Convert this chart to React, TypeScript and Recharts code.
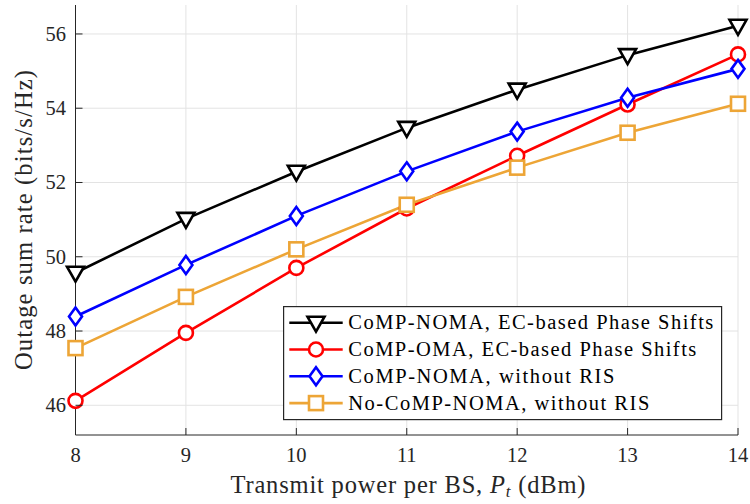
import { LineChart, Line, XAxis, YAxis, CartesianGrid, Label } from "recharts";

const powers = [8, 9, 10, 11, 12, 13, 14];
const compNomaEc = [49.57, 51.02, 52.29, 53.47, 54.5, 55.43, 56.22];
const compOmaEc = [46.12, 47.95, 49.7, 51.3, 52.72, 54.1, 55.45];
const compNomaNoRis = [48.39, 49.78, 51.1, 52.3, 53.37, 54.28, 55.06];
const noCompNoma = [47.54, 48.92, 50.2, 51.4, 52.4, 53.34, 54.12];
const xTicks = [8, 9, 10, 11, 12, 13, 14];
const yTicks = [46, 48, 50, 52, 54, 56];

const seriesNames = [
  "CoMP-NOMA, EC-based Phase Shifts",
  "CoMP-OMA, EC-based Phase Shifts",
  "CoMP-NOMA, without RIS",
  "No-CoMP-NOMA, without RIS",
];
// measured text widths in the legend
const legendWidths = [365, 348, 266, 301];

const data = powers.map((p, i) => ({
  p,
  a: compNomaEc[i],
  b: compOmaEc[i],
  c: compNomaNoRis[i],
  d: noCompNoma[i],
}));

const FONT = "'Liberation Serif', serif";
const AXIS = "#262626";
const colors = ["#000000", "#ff0000", "#0000ff", "#EDA536"];
const shapes = ["tri", "circle", "diamond", "square"];

function Marker({ shape, cx, cy, color }: { shape: string; cx: number; cy: number; color: string }) {
  const sw = 2.6;
  if (shape === "tri")
    return <polygon points={`${cx - 8.5},${cy - 6} ${cx + 8.5},${cy - 6} ${cx},${cy + 9}`} fill="#fff" stroke={color} strokeWidth={sw} />;
  if (shape === "circle") return <circle cx={cx} cy={cy} r={7} fill="#fff" stroke={color} strokeWidth={sw} />;
  if (shape === "diamond")
    return <polygon points={`${cx},${cy - 9} ${cx + 6.5},${cy} ${cx},${cy + 9} ${cx - 6.5},${cy}`} fill="#fff" stroke={color} strokeWidth={sw} />;
  return <rect x={cx - 7} y={cy - 7} width={14} height={14} fill="#fff" stroke={color} strokeWidth={sw} />;
}

const BottomTick = (props: any) => {
  const { x, y, payload } = props;
  return (
    <g>
      <line x1={x} x2={x} y1={y} y2={y - 7} stroke={AXIS} strokeWidth={1} />
      <text x={x} y={y + 27} textAnchor="middle" fontFamily={FONT} fontSize={20.5} fill="#262626">
        {payload.value}
      </text>
    </g>
  );
};

const TopTick = (props: any) => {
  const { x, y } = props;
  return <line x1={x} x2={x} y1={y} y2={y + 7} stroke={AXIS} strokeWidth={1} />;
};

const LeftTick = (props: any) => {
  const { x, y, payload } = props;
  return (
    <g>
      <line x1={x} x2={x + 7} y1={y} y2={y} stroke={AXIS} strokeWidth={1} />
      <text x={x - 9.5} y={y + 7} textAnchor="end" fontFamily={FONT} fontSize={20.5} fill="#262626">
        {payload.value}
      </text>
    </g>
  );
};

const RightTick = (props: any) => {
  const { x, y } = props;
  return <line x1={x} x2={x - 7} y1={y} y2={y} stroke={AXIS} strokeWidth={1} />;
};

const LegendBox = () => (
  <svg
    width={440}
    height={115}
    style={{ position: "absolute", left: 283, top: 306 }}
  >
    <rect x={0.6} y={0.6} width={438} height={113} fill="#fff" stroke="#262626" strokeWidth={1.2} />
    {seriesNames.map((name, i) => {
      const cy = 16.7 + i * 26.8;
      return (
        <g key={name}>
          <line x1={6.3} x2={59.7} y1={cy} y2={cy} stroke={colors[i]} strokeWidth={2.6} />
          <Marker shape={shapes[i]} cx={33} cy={cy} color={colors[i]} />
          <text
            x={65.3}
            y={cy + 6.4}
            fontFamily={FONT}
            fontSize={20.5}
            fill="#000"
            textLength={legendWidths[i]}
            lengthAdjust="spacing"
          >
            {name}
          </text>
        </g>
      );
    })}
  </svg>
);

const keys = ["a", "b", "c", "d"];

export default function App() {
  return (
    <div style={{ position: "absolute", left: 0, top: 0, width: 750, height: 504, background: "#fff" }}>
      <LineChart width={750} height={504} data={data} margin={{ top: 5, right: 12, bottom: 0, left: 0 }}>
        <CartesianGrid stroke="#e3e3e3" strokeWidth={1} horizontalValues={yTicks} verticalValues={xTicks} />
        <XAxis
          dataKey="p"
          type="number"
          domain={[8, 14]}
          ticks={xTicks}
          height={69}
          tickSize={0}
          tickMargin={0}
          tick={<BottomTick />}
          axisLine={{ stroke: AXIS }}
        >
          <Label
            content={() => (
              <text
                x={408}
                y={493}
                textAnchor="middle"
                fontFamily={FONT}
                fontSize={24.5}
                fill="#262626"
                textLength={355}
                lengthAdjust="spacing"
              >
                Transmit power per BS, <tspan fontStyle="italic">P</tspan>
                <tspan fontStyle="italic" fontSize={17} dy={4}>t</tspan>
                <tspan dy={-4}> (dBm)</tspan>
              </text>
            )}
          />
        </XAxis>
        <XAxis
          xAxisId="top"
          dataKey="p"
          type="number"
          orientation="top"
          domain={[8, 14]}
          ticks={xTicks}
          height={0}
          tickSize={0}
          tickMargin={0}
          tick={<TopTick />}
          axisLine={{ stroke: AXIS }}
        />
        <YAxis
          type="number"
          domain={[45.2, 56.78]}
          ticks={yTicks}
          width={75.5}
          tickSize={0}
          tickMargin={0}
          tick={<LeftTick />}
          axisLine={{ stroke: AXIS }}
        >
          <Label
            content={() => (
              <text
                x={32}
                y={220}
                transform="rotate(-90 32 220)"
                textAnchor="middle"
                fontFamily={FONT}
                fontSize={24.5}
                fill="#262626"
                textLength={300}
                lengthAdjust="spacing"
              >
                Outage sum rate (bits/s/Hz)
              </text>
            )}
          />
        </YAxis>
        <YAxis
          yAxisId="right"
          orientation="right"
          type="number"
          domain={[45.2, 56.78]}
          ticks={yTicks}
          width={0}
          tickSize={0}
          tickMargin={0}
          tick={<RightTick />}
          axisLine={{ stroke: AXIS }}
        />
        {keys.map((k, i) => (
          <Line
            key={k}
            dataKey={k}
            name={seriesNames[i]}
            stroke={colors[i]}
            strokeWidth={2.6}
            isAnimationActive={false}
            dot={(p: any) => <Marker key={`${k}-${p.index}`} shape={shapes[i]} cx={p.cx} cy={p.cy} color={colors[i]} />}
            activeDot={false}
          />
        ))}
      </LineChart>
      <LegendBox />
    </div>
  );
}
